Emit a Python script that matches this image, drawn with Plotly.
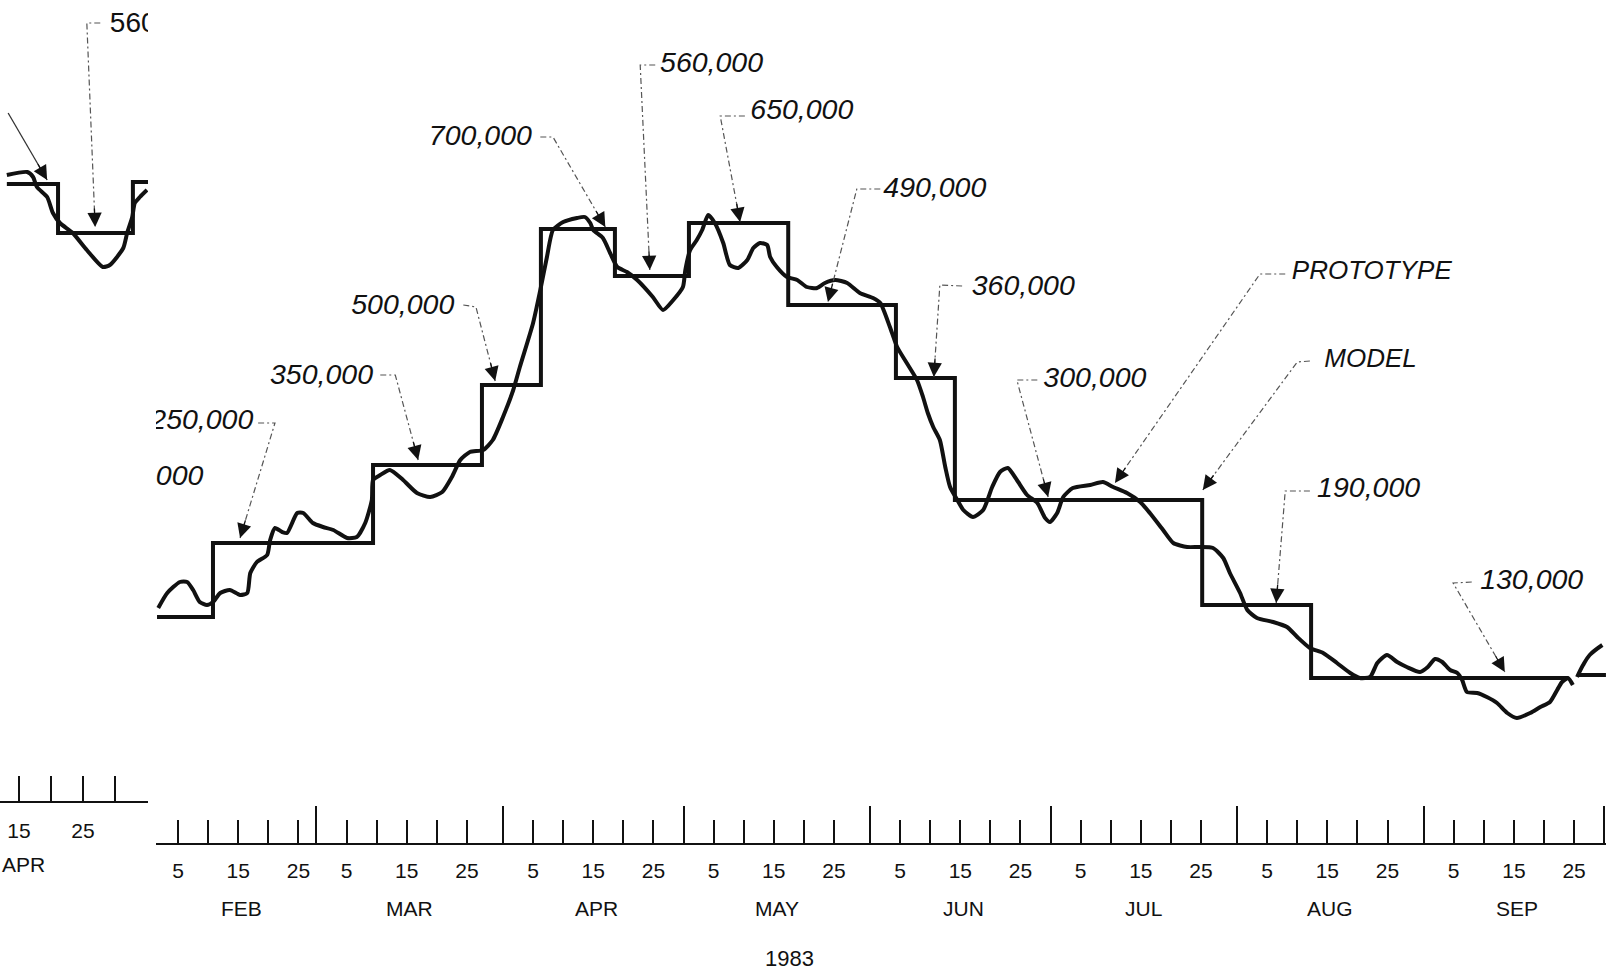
import math
import pandas as pd
import plotly.graph_objects as go

W, H = 1606, 971
DAY0 = pd.Timestamp("1983-02-01")

# ---------------- data (main record, days after 1 Feb 1983; stage in arbitrary units) ----------------
model_start_day = [1.5, 10.8, 37.4, 55.5, 65.3, 77.6, 89.9, 106.4, 124.3, 134.1, 175.2, 193.3]
model_end_day = 236.0
model_stage = [22.6, 30.0, 37.8, 45.8, 61.4, 56.7, 62.0, 53.8, 46.5, 34.3, 23.8, 16.5]

proto_day = [1.7, 3.2, 5.3, 6.5, 7.5, 8.6, 9.8, 10.8, 12.0, 13.6, 15.3, 16.5, 17.0, 18.1, 19.8, 20.3,
             21.1, 22.3, 23.1, 24.8, 25.8, 27.4, 29.1, 30.8, 33.1, 34.7, 36.1, 37.2, 37.4, 38.6, 40.2,
             42.4, 44.7, 46.9, 48.9, 50.5, 51.9, 53.5, 55.7, 57.3, 59.0, 60.7, 61.8, 64.0, 65.2, 66.3,
             67.3, 69.0, 71.3, 72.6, 73.5, 74.0, 75.6, 76.8, 78.0, 79.6, 81.3, 83.9, 85.6, 87.3, 88.9,
             89.3, 90.1, 91.2, 92.1, 93.1, 94.2, 95.6, 96.7, 98.1, 99.6, 100.6, 101.7, 102.9, 103.4,
             104.5, 106.2, 107.9, 109.5, 111.2, 112.5, 114.2, 116.2, 118.3, 120.5, 121.7, 123.3, 124.5,
             126.1, 127.8, 128.8, 129.6, 130.5, 131.6, 132.5, 133.3, 134.5, 135.5, 137.1, 138.8, 140.3,
             141.6, 142.9, 144.4, 146.1, 147.8, 149.1, 149.9, 151.1, 152.1, 153.7, 156.6, 158.7, 160.4,
             162.7, 164.9, 166.5, 168.7, 170.4, 172.7, 174.8, 177.0, 178.7, 179.8, 181.5, 182.7, 184.3,
             187.0, 189.3, 191.0, 193.1, 195.3, 197.6, 199.8, 201.4, 203.1, 204.3, 205.9, 207.6, 209.2,
             211.4, 212.7, 213.9, 215.1, 216.4, 217.6, 218.4, 219.2, 220.9, 222.5, 224.2, 225.9, 227.5,
             229.7, 231.4, 233.0, 234.2, 235.0, 236.0, 236.8]
proto_stage = [23.5, 25.0, 26.1, 26.1, 25.3, 24.1, 23.8, 24.1, 25.0, 25.3, 24.8, 25.0, 27.0, 28.1, 28.8, 30.3,
               31.5, 31.1, 31.0, 33.0, 33.0, 32.0, 31.6, 31.3, 30.5, 30.6, 32.0, 34.3, 36.3, 36.8, 37.3,
               36.3, 35.0, 34.6, 35.1, 36.6, 38.3, 39.1, 39.3, 40.3, 42.6, 45.3, 47.6, 52.0, 55.3, 58.6,
               61.3, 62.1, 62.5, 62.6, 62.0, 61.3, 60.5, 59.0, 57.6, 57.1, 56.3, 54.6, 53.3, 54.3, 55.6,
               57.3, 59.3, 60.3, 61.3, 62.8, 62.0, 60.0, 57.8, 57.5, 58.3, 59.5, 60.0, 59.8, 58.6,
               57.6, 56.6, 56.3, 55.6, 55.5, 56.0, 56.3, 56.0, 55.0, 54.5, 54.0, 51.6, 49.6,
               48.0, 46.3, 44.6, 43.0, 41.6, 40.3, 37.6, 35.6, 34.3, 33.3, 32.6, 33.3, 35.6,
               37.1, 37.5, 36.3, 34.8, 34.0, 32.5, 32.1, 33.0, 34.6, 35.5, 35.8, 36.1, 35.6,
               35.0, 34.1, 33.0, 31.3, 30.0, 29.6, 29.6, 29.5, 28.5, 27.0, 25.0, 23.3, 22.5,
               22.1, 21.6, 20.6, 19.5, 19.0, 18.0, 17.0, 16.5, 16.6, 18.0, 18.8, 18.1, 17.6,
               17.1, 17.6, 18.4, 18.1, 17.3, 17.0, 16.3, 15.1, 15.0, 14.6, 14.0, 13.0, 12.5,
               13.0, 13.6, 14.1, 15.3, 16.1, 16.5, 15.8]

# start of the following record at the right edge
next_model_day = [237.7, 242.3]
next_model_stage = [16.8, 16.8]
next_proto_day = [237.5, 238.5, 239.6, 241.7]
next_proto_stage = [16.6, 17.8, 18.8, 19.8]

# fragment of the preceding record at the left edge (day of April)
frag_model_day = [13.1, 21.1, 32.8]
frag_model_end = 35.2
frag_model_stage = [61.7, 56.8, 61.9]
frag_proto_day = [13.1, 16.3, 17.2, 17.8, 19.4, 20.3, 21.4, 23.4, 25.6, 28.1, 29.2, 31.3, 31.9, 32.7, 33.1, 33.9, 35.0]
frag_proto_stage = [62.6, 62.9, 62.4, 61.4, 60.4, 58.8, 57.8, 56.8, 55.1, 53.4, 53.6, 55.3, 56.8, 58.4, 59.8, 60.4, 61.1]

# axis ticks (day ticks mark the end of the named day)
month_names = ["FEB", "MAR", "APR", "MAY", "JUN", "JUL", "AUG", "SEP"]
month_numbers = [2, 3, 4, 5, 6, 7, 8, 9]
tick_days = [5, 10, 15, 20, 25]
tick_day_labels = ["5", "", "15", "", "25"]
frag_tick_vals = [15, 20, 25, 30]
frag_tick_text = ["15", "", "25", ""]

# discharge labels (text, anchor, leader)
label_text = ["560,000", "650,000", "490,000", "360,000", "300,000", "PROTOTYPE", "MODEL", "190,000", "130,000",
              "700,000", "500,000", "350,000", "250,000", "000"]
label_side = ["L", "L", "L", "L", "L", "L", "L", "L", "L", "R", "R", "R", "R", "R"]
label_day = [85.1, 100.1, 122.2, 136.9, 148.8, 190.1, 195.5, 194.3, 221.4, 63.8, 50.9, 37.4, 17.5, 9.2]
label_stage = [77.8, 73.1, 65.3, 55.5, 46.3, 57.1, 48.3, 35.3, 26.1, 70.5, 53.6, 46.6, 42.1, 36.5]
leader_day = [[84.3, 81.8, 83.4], [99.2, 95.1, 98.4], [121.7, 117.8, 113.0], [135.3, 131.6, 130.6],
              [147.8, 144.4, 149.6], [189.0, 184.8, 160.7], [193.1, 191.0, 175.3], [193.1, 189.0, 187.5],
              [220.0, 216.9, 225.5], [65.2, 67.3, 76.0], [52.4, 54.5, 57.7], [38.6, 41.1, 44.9],
              [18.3, 21.1, 15.3], None]
leader_stage = [[77.8, 77.8, 57.3], [72.7, 72.7, 62.1], [65.4, 65.4, 54.1], [55.7, 55.8, 46.6],
                [46.3, 46.3, 34.6], [56.9, 56.9, 36.0], [48.2, 48.1, 35.3], [35.2, 35.2, 24.0],
                [26.1, 26.0, 17.1], [70.6, 70.6, 61.6], [53.8, 53.6, 46.2], [46.8, 46.8, 38.3],
                [42.0, 42.0, 30.5], None]

frag_label_text = "560,000"
frag_label_day, frag_label_stage = 29.2, 77.6
frag_leader_day = [27.7, 25.6, 26.9]
frag_leader_stage = [77.8, 77.8, 57.4]
frag_arrow_from = (13.3, 68.8)
frag_arrow_to = (19.4, 62.1)

# ---------------- geometry ----------------
X_DOMAIN = [156 / W, 1.0]
X_RANGE_DAYS = [1.33, 242.31]
Y_RANGE = [0, 84.3]
Y_DOMAIN = [(H - 843) / H, 1.0]
X2_DOMAIN = [0, 148 / W]
X2_RANGE = [12.03, 35.16]
Y2_RANGE = [0, 80.1]
Y2_DOMAIN = [(H - 801) / H, 1.0]

ppd = (X_DOMAIN[1] - X_DOMAIN[0]) * W / (X_RANGE_DAYS[1] - X_RANGE_DAYS[0])
ppu = (Y_DOMAIN[1] - Y_DOMAIN[0]) * H / (Y_RANGE[1] - Y_RANGE[0])
ppd2 = (X2_DOMAIN[1] - X2_DOMAIN[0]) * W / (X2_RANGE[1] - X2_RANGE[0])
ppu2 = (Y2_DOMAIN[1] - Y2_DOMAIN[0]) * H / (Y2_RANGE[1] - Y2_RANGE[0])


def to_date(days):
    return [None if d is None else (DAY0 + pd.Timedelta(days=d)).strftime("%Y-%m-%d %H:%M:%S") for d in days]


LABEL_FONT = "Liberation Sans"
INK = "#111111"
LEAD = "#555555"

fig = go.Figure()

# model step
fig.add_trace(go.Scatter(x=to_date(model_start_day + [model_end_day]), y=model_stage + [model_stage[-1]],
                         mode="lines", line=dict(shape="hv", color=INK, width=4), xaxis="x", yaxis="y",
                         name="MODEL", hoverinfo="skip"))
# prototype
fig.add_trace(go.Scatter(x=to_date(proto_day), y=proto_stage, mode="lines",
                         line=dict(shape="spline", smoothing=0.6, color=INK, width=4), xaxis="x", yaxis="y",
                         name="PROTOTYPE", hoverinfo="skip"))
fig.add_trace(go.Scatter(x=to_date(next_model_day), y=next_model_stage, mode="lines",
                         line=dict(color=INK, width=4), xaxis="x", yaxis="y", hoverinfo="skip"))
fig.add_trace(go.Scatter(x=to_date(next_proto_day), y=next_proto_stage, mode="lines",
                         line=dict(shape="spline", color=INK, width=4), xaxis="x", yaxis="y", hoverinfo="skip"))

# left fragment
fig.add_trace(go.Scatter(x=frag_model_day + [frag_model_end], y=frag_model_stage + [frag_model_stage[-1]],
                         mode="lines", line=dict(shape="hv", color=INK, width=4), xaxis="x2", yaxis="y2",
                         hoverinfo="skip"))
fig.add_trace(go.Scatter(x=frag_proto_day, y=frag_proto_stage, mode="lines",
                         line=dict(shape="spline", smoothing=0.6, color=INK, width=4), xaxis="x2", yaxis="y2",
                         hoverinfo="skip"))

annotations = []


def arrow_ann(xtip, ytip, xfrom, yfrom, sx, sy, xref, yref, length=20, xval=None):
    dx = (xfrom - xtip) * sx
    dy = -(yfrom - ytip) * sy
    L = math.hypot(dx, dy) or 1.0
    return dict(x=xval if xval is not None else xtip, y=ytip, xref=xref, yref=yref, text="",
                showarrow=True, ax=dx / L * length, ay=dy / L * length, arrowhead=2, arrowsize=2.2,
                arrowwidth=1.3, arrowcolor=INK, standoff=0)


# leaders + labels on main record
for i, txt in enumerate(label_text):
    is_word = txt in ("PROTOTYPE", "MODEL")
    fig.add_trace(go.Scatter(x=to_date([label_day[i]]), y=[label_stage[i]], mode="text", text=[txt],
                             textposition="middle right" if label_side[i] == "L" else "middle left",
                             textfont=dict(family=LABEL_FONT, size=26 if is_word else 28.5, color=INK,
                                           style="italic"),
                             cliponaxis=True, xaxis="x", yaxis="y", hoverinfo="skip"))
    if leader_day[i] is not None:
        ld, ls = leader_day[i], leader_stage[i]
        fig.add_trace(go.Scatter(x=to_date(ld), y=ls, mode="lines",
                                 line=dict(color=LEAD, width=1.2, dash="6px,3px,2px,3px"),
                                 xaxis="x", yaxis="y", hoverinfo="skip"))
        annotations.append(arrow_ann(ld[2], ls[2], ld[1], ls[1], ppd, ppu, "x", "y",
                                     xval=to_date([ld[2]])[0]))

# fragment label + leaders
fig.add_trace(go.Scatter(x=[frag_label_day], y=[frag_label_stage], mode="text", text=[frag_label_text],
                         textposition="middle right",
                         textfont=dict(family=LABEL_FONT, size=28, color=INK),
                         cliponaxis=True, xaxis="x2", yaxis="y2", hoverinfo="skip"))
fig.add_trace(go.Scatter(x=frag_leader_day, y=frag_leader_stage, mode="lines",
                         line=dict(color=LEAD, width=1.2, dash="6px,3px,2px,3px"),
                         xaxis="x2", yaxis="y2", hoverinfo="skip"))
annotations.append(arrow_ann(frag_leader_day[2], frag_leader_stage[2], frag_leader_day[1], frag_leader_stage[1],
                             ppd2, ppu2, "x2", "y2"))
fig.add_trace(go.Scatter(x=[frag_arrow_from[0], frag_arrow_to[0]], y=[frag_arrow_from[1], frag_arrow_to[1]],
                         mode="lines", line=dict(color="#333333", width=1.3), xaxis="x2", yaxis="y2",
                         hoverinfo="skip"))
annotations.append(arrow_ann(frag_arrow_to[0], frag_arrow_to[1], frag_arrow_from[0], frag_arrow_from[1],
                             ppd2, ppu2, "x2", "y2"))

# month labels (centred under the "15" tick label)
for name, m in zip(month_names, month_numbers):
    annotations.append(dict(x=(pd.Timestamp(1983, m, 16) + pd.Timedelta(hours=12)).strftime("%Y-%m-%d %H:%M"),
                            y=1 - 908 / H, xref="x", yref="paper", text=name, showarrow=False,
                            yanchor="middle", font=dict(family="Liberation Sans", size=21, color=INK)))
annotations.append(dict(x=0.0, y=1 - 864 / H, xref="paper", yref="paper", text="APR", showarrow=False,
                        xanchor="left", yanchor="middle", font=dict(family="Liberation Sans", size=21, color=INK)))
annotations.append(dict(x=789 / W, y=1 - 958 / H, xref="paper", yref="paper", text="1983", showarrow=False,
                        yanchor="middle", font=dict(family="Liberation Sans", size=22, color=INK)))

tickvals, ticktext = [], []
for m in month_numbers:
    for d, t in zip(tick_days, tick_day_labels):
        tickvals.append((pd.Timestamp(1983, m, d) + pd.Timedelta(days=1)).strftime("%Y-%m-%d"))
        ticktext.append(t)
month_starts = [pd.Timestamp(1983, m, 1).strftime("%Y-%m-%d") for m in month_numbers[1:] + [10]]

fig.update_layout(
    width=W, height=H, margin=dict(l=0, r=0, t=0, b=0),
    paper_bgcolor="white", plot_bgcolor="rgba(0,0,0,0)", showlegend=False,
    annotations=annotations,
    xaxis=dict(type="date", domain=X_DOMAIN, anchor="y",
               range=to_date(X_RANGE_DAYS),
               tickmode="array", tickvals=tickvals, ticktext=ticktext, tickangle=0,
               ticks="inside", ticklen=23, tickwidth=2, tickcolor=INK,
               showline=True, linecolor=INK, linewidth=2, showgrid=False, zeroline=False,
               tickfont=dict(family="Liberation Sans", size=21, color=INK), ticklabelstandoff=8,
               minor=dict(tickmode="array", tickvals=month_starts, ticks="inside", ticklen=37,
                          tickwidth=2, tickcolor=INK, showgrid=False)),
    yaxis=dict(domain=Y_DOMAIN, range=Y_RANGE, visible=False, anchor="x"),
    xaxis2=dict(domain=X2_DOMAIN, range=X2_RANGE, anchor="y2",
                tickmode="array", tickvals=frag_tick_vals, ticktext=frag_tick_text, tickangle=0,
                ticks="inside", ticklen=25, tickwidth=2, tickcolor=INK,
                showline=True, linecolor=INK, linewidth=2, showgrid=False, zeroline=False,
                tickfont=dict(family="Liberation Sans", size=21, color=INK), ticklabelstandoff=10),
    yaxis2=dict(domain=Y2_DOMAIN, range=Y2_RANGE, visible=False, anchor="x2"),
)

fig.write_html("out.html", include_plotlyjs=True, full_html=True, config={"displayModeBar": False},
               post_script="document.body.style.margin='0';document.body.style.overflow='hidden';")
